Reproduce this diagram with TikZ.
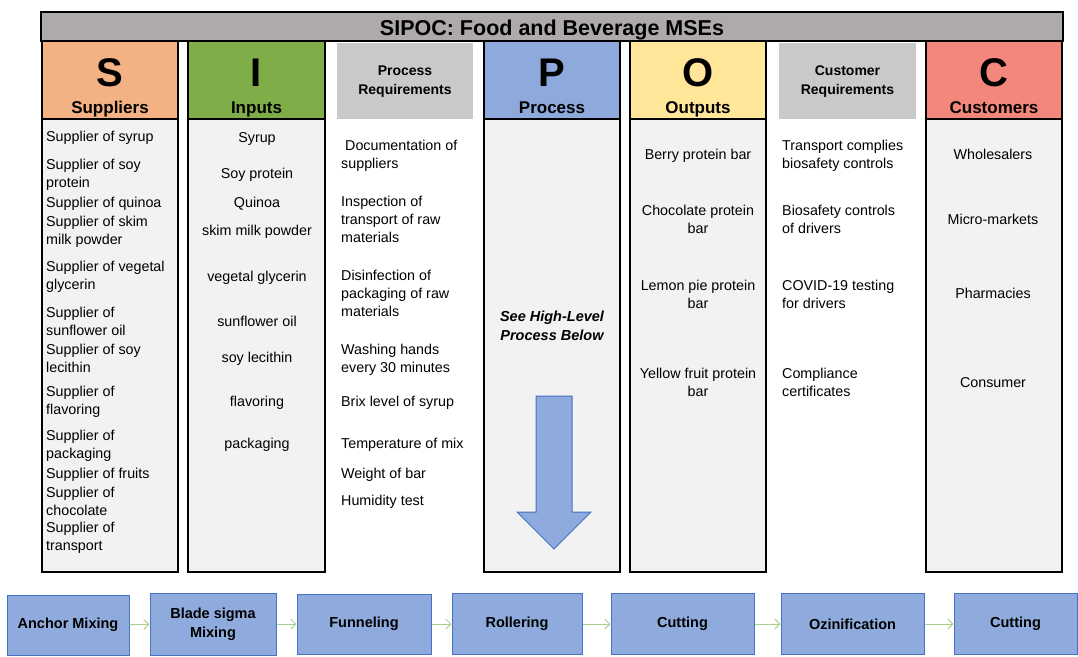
\documentclass[tikz,border=0pt]{standalone}
\usepackage{fontspec}
\setmainfont{Liberation Sans}
\usetikzlibrary{arrows.meta}
\definecolor{sorange}{HTML}{F4B183}
\definecolor{igreen}{HTML}{7FAE48}
\definecolor{pblue}{HTML}{8EA9DB}
\definecolor{oyellow}{HTML}{FFE699}
\definecolor{cred}{HTML}{F4877B}
\definecolor{reqgray}{HTML}{C9C9C9}
\definecolor{titlegray}{HTML}{AEAAAA}
\definecolor{bodygray}{HTML}{F2F2F2}
\definecolor{boxfill}{HTML}{8FAADC}
\definecolor{boxline}{HTML}{4472C4}
\definecolor{flowgreen}{HTML}{A9D18E}
\begin{document}
\begin{tikzpicture}[x=1pt,y=-1pt,
  frame/.style={draw=black, line width=1.8pt, inner sep=0pt, outer sep=0pt},
  hdr/.style={frame, minimum width=136pt, minimum height=78pt},
  bodybox/.style={frame, fill=bodygray, minimum width=136pt, minimum height=453pt},
  reqbox/.style={fill=reqgray, inner sep=0pt, minimum width=136pt, minimum height=76pt},
  big/.style={font=\fontsize{40}{40}\selectfont\bfseries, inner sep=0pt, anchor=base},
  sub/.style={font=\fontsize{17}{17}\selectfont\bfseries, inner sep=0pt, anchor=base},
  reqhd/.style={font=\fontsize{14}{19}\selectfont\bfseries, inner sep=0pt, align=center, anchor=base},
  ltxt/.style={font=\fontsize{14.3}{18}\selectfont, inner sep=0pt, align=left, anchor=base west},
  ctxt/.style={font=\fontsize{14.3}{18}\selectfont, inner sep=0pt, align=center, anchor=base},
  proc/.style={draw=boxline, fill=boxfill, line width=1pt, inner sep=0pt,
    font=\fontsize{14.5}{19}\selectfont\bfseries, align=center, minimum height=61pt},
  flow/.style={draw=flowgreen, line width=1pt, -{Straight Barb[length=5pt,width=10pt]}}
]
\useasboundingbox (0,0) rectangle (1078,656);

% title
\node[frame, fill=titlegray, minimum width=1022pt, minimum height=29pt] (title) at (552,26.5) {};
\node[inner sep=0pt, anchor=base, font=\fontsize{21.5}{22}\selectfont\bfseries] (titletxt) at (552,35) {SIPOC: Food and Beverage MSEs};

% headers
\node[hdr, fill=sorange] (hS) at (110,80) {};
\node[hdr, fill=igreen, minimum width=137pt] (hI) at (256.5,80) {};
\node[reqbox] (hPR) at (405,81) {};
\node[hdr, fill=pblue] (hP) at (552,80) {};
\node[hdr, fill=oyellow] (hO) at (698,80) {};
\node[reqbox, minimum width=137pt] (hCR) at (847.5,81) {};
\node[hdr, fill=cred] (hC) at (994,80) {};

\node[big] (lS) at (110,86) {S};
\node[big] (lI) at (256.5,86) {I};
\node[big] (lP) at (552,86) {P};
\node[big] (lO) at (698,86) {O};
\node[big] (lC) at (994,86) {C};
\node[sub] (sS) at (110,113) {Suppliers};
\node[sub] (sI) at (256.5,113) {Inputs};
\node[sub] (sP) at (552,113) {Process};
\node[sub] (sO) at (698,113) {Outputs};
\node[sub] (sC) at (994,113) {Customers};
\node[reqhd] (tPR) at (405,94) {Process\\Requirements};
\node[reqhd] (tCR) at (847.5,94) {Customer\\Requirements};

% bodies
\node[bodybox] (bS) at (110,345.5) {};
\node[bodybox, minimum width=137pt] (bI) at (256.5,345.5) {};
\node[bodybox] (bP) at (552,345.5) {};
\node[bodybox] (bO) at (698,345.5) {};
\node[bodybox] (bC) at (994,345.5) {};

% Suppliers (anchor = baseline of last line)
\node[ltxt] (s1) at (46,141) {Supplier of syrup};
\node[ltxt] (s2) at (46,187) {Supplier of soy\\protein};
\node[ltxt] (s3) at (46,207) {Supplier of quinoa};
\node[ltxt] (s4) at (46,244) {Supplier of skim\\milk powder};
\node[ltxt] (s5) at (46,289) {Supplier of vegetal\\glycerin};
\node[ltxt] (s6) at (46,335) {Supplier of\\sunflower oil};
\node[ltxt] (s7) at (46,372) {Supplier of soy\\lecithin};
\node[ltxt] (s8) at (46,414) {Supplier of\\flavoring};
\node[ltxt] (s9) at (46,458) {Supplier of\\packaging};
\node[ltxt] (s10) at (46,478) {Supplier of fruits};
\node[ltxt] (s11) at (46,515) {Supplier of\\chocolate};
\node[ltxt] (s12) at (46,550) {Supplier of\\transport};

% Inputs
\node[ctxt] (i1) at (257,142) {Syrup};
\node[ctxt] (i2) at (257,178) {Soy protein};
\node[ctxt] (i3) at (257,207) {Quinoa};
\node[ctxt] (i4) at (257,235) {skim milk powder};
\node[ctxt] (i5) at (257,281) {vegetal glycerin};
\node[ctxt] (i6) at (257,326) {sunflower oil};
\node[ctxt] (i7) at (257,362) {soy lecithin};
\node[ctxt] (i8) at (257,406) {flavoring};
\node[ctxt] (i9) at (257,448) {packaging};

% Process requirements
\node[ltxt] (r1) at (341,168) {\ Documentation of\\suppliers};
\node[ltxt] (r2) at (341,242) {Inspection of\\transport of raw\\materials};
\node[ltxt] (r3) at (341,316) {Disinfection of\\packaging of raw\\materials};
\node[ltxt] (r4) at (341,372) {Washing hands\\every 30 minutes};
\node[ltxt] (r5) at (341,406) {Brix level of syrup};
\node[ltxt] (r6) at (341,448) {Temperature of mix};
\node[ltxt] (r7) at (341,478) {Weight of bar};
\node[ltxt] (r8) at (341,505) {Humidity test};

% Process
\node[inner sep=0pt, anchor=base, align=center, font=\fontsize{14.5}{19}\selectfont\bfseries\itshape] (see) at (552,340) {See High-Level\\Process Below};
\draw[draw=boxline, fill=boxfill, line width=1pt] (536,396) -- (572,396) -- (572,512) -- (591,512) -- (554,549) -- (517,512) -- (536,512) -- cycle;

% Outputs
\node[ctxt] (o1) at (698,159) {Berry protein bar};
\node[ctxt] (o2) at (698,233) {Chocolate protein\\bar};
\node[ctxt] (o3) at (698,308) {Lemon pie protein\\bar};
\node[ctxt] (o4) at (698,396) {Yellow fruit protein\\bar};

% Customer requirements
\node[ltxt] (q1) at (782,168) {Transport complies\\biosafety controls};
\node[ltxt] (q2) at (782,233) {Biosafety controls\\of drivers};
\node[ltxt] (q3) at (782,308) {COVID-19 testing\\for drivers};
\node[ltxt] (q4) at (782,396) {Compliance\\certificates};

% Customers
\node[ctxt] (c1) at (993,159) {Wholesalers};
\node[ctxt] (c2) at (993,224) {Micro-markets};
\node[ctxt] (c3) at (993,298) {Pharmacies};
\node[ctxt] (c4) at (993,387) {Consumer};

% high-level process
\node[proc, minimum width=122pt, minimum height=60pt] (a1) at (68,625) {Anchor Mixing};
\node[proc, minimum width=126pt, minimum height=62pt] (a2) at (213,624) {Blade sigma\\Mixing};
\node[proc, minimum width=134pt, minimum height=60pt] (a3) at (364,624) {Funneling};
\node[proc, minimum width=130pt] (a4) at (517,624) {Rollering};
\node[proc, minimum width=143pt] (a5) at (682.5,624) {Cutting};
\node[proc, minimum width=143pt] (a6) at (852.5,624) {Ozinification};
\node[proc, minimum width=123pt] (a7) at (1015.5,624) {Cutting};

\draw[flow] (a1) -- (a2);
\draw[flow] (a2) -- (a3);
\draw[flow] (a3) -- (a4);
\draw[flow] (a4) -- (a5);
\draw[flow] (a5) -- (a6);
\draw[flow] (a6) -- (a7);
\end{tikzpicture}
\end{document}
